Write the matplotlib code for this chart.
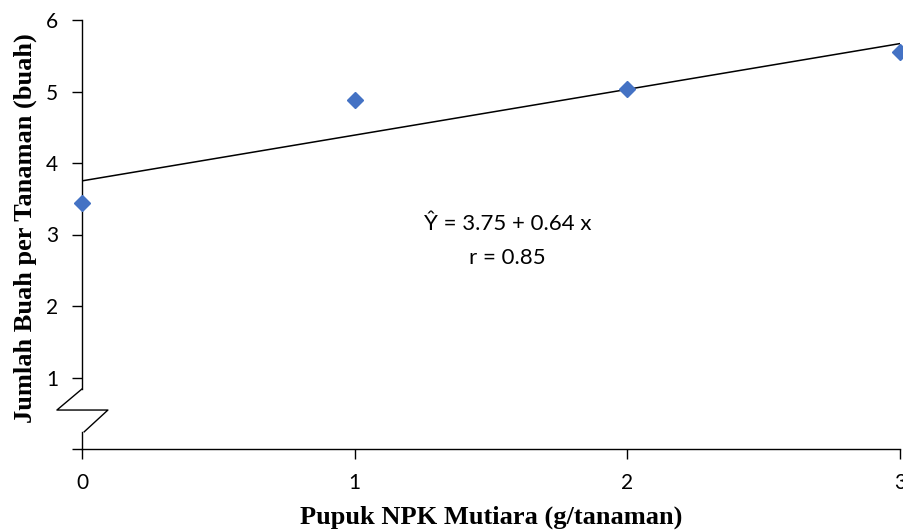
import matplotlib
matplotlib.use('Agg')
import matplotlib.pyplot as plt
import numpy as np

# dosis pupuk vs jumlah buah
dosis = [0, 1, 2, 3]
jumlah_buah = [3.44, 4.88, 5.03, 5.55]
intercept = 3.75
slope = 0.64
r_value = 0.85
y_ticks = [0, 1, 2, 3, 4, 5, 6]
y_ticklabels = ['', '1', '2', '3', '4', '5', '6']

sans = ['Lato', 'DejaVu Sans']
serif = ['Liberation Serif', 'DejaVu Serif']

fig = plt.figure(figsize=(9.04, 5.32), dpi=100)
ax = fig.add_axes([82 / 904, 83 / 532, 818 / 904, 429 / 532])

# garis regresi
xl = np.array([dosis[0], dosis[-1]])
ax.plot(xl, intercept + slope * xl, color='black', lw=1.1, zorder=2)
ax.plot(dosis, jumlah_buah, 'D', color='#4472C4', ms=8, mec='#4472C4',
        clip_on=False, zorder=3)

ax.set_xlim(0, 3)
ax.set_ylim(0, 6)
ax.set_xticks(dosis)
ax.set_xticklabels([str(d) for d in dosis], family=sans, fontsize=15)
ax.set_yticks(y_ticks)
ax.set_yticklabels(y_ticklabels, family=sans, fontsize=15)
ax.tick_params(axis='x', direction='out', length=7, width=1, pad=10)
ax.tick_params(axis='y', direction='out', length=7, width=1, pad=10)

for s in ['top', 'right', 'left']:
    ax.spines[s].set_visible(False)
ax.spines['bottom'].set_linewidth(1)

# sumbu y dengan tanda patah
ax.plot([0, 0], [6, 0.84], color='black', lw=1, clip_on=False)
ax.plot([0, -0.092, 0.095, 0.008], [0.84, 0.545, 0.545, 0.24],
        color='black', lw=1, clip_on=False)
ax.plot([0, 0], [0.24, 0], color='black', lw=1, clip_on=False)

ax.text(1.56, 3.14, 'Ŷ = 3.75 + 0.64 x', ha='center', va='center',
        family=sans, fontsize=16)
ax.text(1.56, 2.67, 'r = %.2f' % r_value, ha='center', va='center',
        family=sans, fontsize=16)

fig.text(491 / 904, 1 - 517 / 532, 'Pupuk NPK Mutiara (g/tanaman)', ha='center',
         va='center', family=serif, weight='bold', fontsize=19)
fig.text(25 / 904, 1 - 228 / 532, 'Jumlah Buah per Tanaman (buah)', ha='center',
         va='center', rotation=90, family=serif, weight='bold', fontsize=19)

fig.savefig('out.png', dpi=100)
